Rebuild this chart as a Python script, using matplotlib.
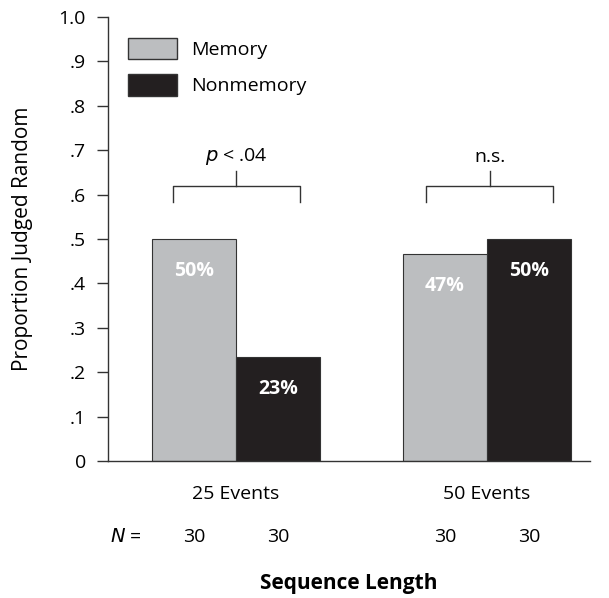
import numpy as np
import matplotlib.pyplot as plt
from matplotlib.patches import Patch

plt.rcParams['font.family'] = ['Open Sans', 'DejaVu Sans']

groups = ['25 Events', '50 Events']
memory = [0.50, 0.466]
nonmemory = [0.234, 0.50]
memory_labels = ['50%', '47%']
nonmemory_labels = ['23%', '50%']
n_memory = [30, 30]
n_nonmemory = [30, 30]
sig_labels = ['p < .04', 'n.s.']
yticks = [0, .1, .2, .3, .4, .5, .6, .7, .8, .9, 1.0]
ytick_labels = ['0', '.1', '.2', '.3', '.4', '.5', '.6', '.7', '.8', '.9', '1.0']

gray = '#bcbec0'
black = '#231f20'
edge = '#333333'
fs = 14

fig = plt.figure(figsize=(6.09, 5.98), dpi=100)
ax = fig.add_axes([108 / 609, 1 - 461 / 598, 482 / 609, 444 / 598])

x = np.arange(len(groups))
w = 0.335
ax.bar(x - w / 2, memory, w, color=gray, edgecolor=edge, linewidth=0.8)
ax.bar(x + w / 2, nonmemory, w, color=black, edgecolor=edge, linewidth=0.8)

for i in range(len(groups)):
    ax.text(x[i] - w / 2, memory[i] - 0.072, memory_labels[i], color='white',
            fontsize=fs, fontweight='bold', ha='center', va='center')
    ax.text(x[i] + w / 2, nonmemory[i] - 0.072, nonmemory_labels[i], color='white',
            fontsize=fs, fontweight='bold', ha='center', va='center')

# significance brackets
half = 0.253
for i, lab in enumerate(sig_labels):
    cx = x[i] + 0.01 * i
    ax.plot([cx - half, cx - half, cx + half, cx + half], [0.583, 0.62, 0.62, 0.583],
            color=edge, lw=1, clip_on=False)
    ax.plot([cx, cx], [0.62, 0.653], color=edge, lw=1, clip_on=False)
    if lab.startswith('p'):
        ax.text(cx, 0.685, r'$\it{p}$ < .04', fontsize=fs, ha='center', va='center')
    else:
        ax.text(cx, 0.685, lab, fontsize=fs, ha='center', va='center')

ax.set_xlim(-0.51, 1.41)
ax.set_ylim(0, 1.0)
ax.set_yticks(yticks)
ax.set_yticklabels(ytick_labels, fontsize=fs)
ax.set_xticks(x)
ax.set_xticklabels(groups, fontsize=fs)
ax.tick_params(axis='x', length=0, pad=17)
ax.tick_params(axis='y', length=8, width=1, color=edge, pad=8)
ax.spines['top'].set_visible(False)
ax.spines['right'].set_visible(False)
for s in ['left', 'bottom']:
    ax.spines[s].set_color(edge)
    ax.spines[s].set_linewidth(1)

# N row
ax.text(-0.44, -0.172, r'$\it{N}$ =', fontsize=fs, ha='center', va='center', clip_on=False)
for i in range(len(groups)):
    ax.text(x[i] - w / 2, -0.172, str(n_memory[i]), fontsize=fs, ha='center', va='center', clip_on=False)
    ax.text(x[i] + w / 2, -0.172, str(n_nonmemory[i]), fontsize=fs, ha='center', va='center', clip_on=False)

fig.text(349 / 609, 1 - 584 / 598, 'Sequence Length', fontsize=15, fontweight='bold',
         ha='center', va='center')
ax.set_ylabel('Proportion Judged Random', fontsize=15, labelpad=18)

handles = [Patch(facecolor=gray, edgecolor=edge, label='Memory'),
           Patch(facecolor=black, edgecolor=edge, label='Nonmemory')]
ax.legend(handles=handles, loc='upper left', bbox_to_anchor=(0.006, 0.993), frameon=False,
          fontsize=fs, handlelength=2.5, handleheight=1.3, labelspacing=0.8, handletextpad=0.75)

fig.savefig('out.png', dpi=100)
